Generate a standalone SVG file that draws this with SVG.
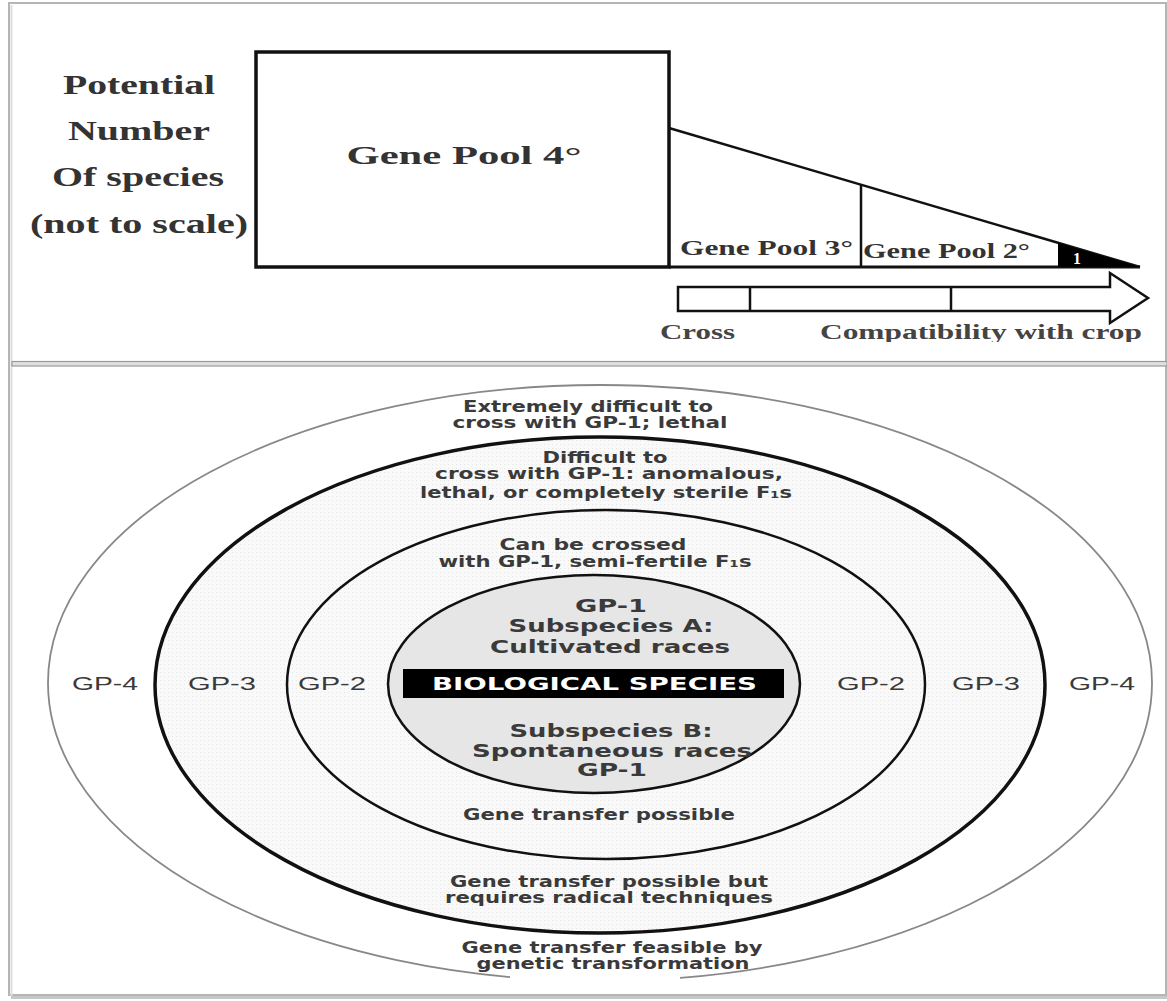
<svg xmlns="http://www.w3.org/2000/svg" width="1167" height="1001" viewBox="0 0 1167 1001">
<defs>
<style>
.serif{font-family:"Liberation Serif","Times New Roman",serif;font-weight:bold;fill:#333;text-anchor:middle}
.sans{font-family:"DejaVu Sans",Verdana,sans-serif;font-weight:bold;fill:#3a3a3a;text-anchor:middle;font-size:15px}
.big{font-size:17px}
.gp{font-family:"Liberation Sans",Arial,sans-serif;fill:#3a3a3a;text-anchor:middle;font-size:18px}
.ln{stroke:#111;fill:none}
</style>
<pattern id="dots" width="4" height="4" patternUnits="userSpaceOnUse"><rect width="4" height="4" fill="#f9f9f9"/><rect width="1" height="1" fill="#e6e6e6"/></pattern>
<clipPath id="cut"><rect x="0" y="0" width="1167" height="342"/></clipPath>
</defs>
<rect width="1167" height="1001" fill="#fff"/>
<g id="frame">
<rect x="9" y="3" width="1157" height="992" fill="none" stroke="#b5b5b5" stroke-width="2"/>
<line x1="11" y1="997.5" x2="1167" y2="997.5" stroke="#c8c8c8" stroke-width="3"/>
<line x1="11.5" y1="5" x2="11.5" y2="996" stroke="#dedede" stroke-width="2"/>
</g>
<g id="axis-label">
<text class="serif" font-size="28" x="139" y="94" textLength="152" lengthAdjust="spacingAndGlyphs">Potential</text>
<text class="serif" font-size="28" x="139" y="140" textLength="142" lengthAdjust="spacingAndGlyphs">Number</text>
<text class="serif" font-size="28" x="138" y="186" textLength="172" lengthAdjust="spacingAndGlyphs">Of species</text>
<text class="serif" font-size="28" x="139" y="233" textLength="218" lengthAdjust="spacingAndGlyphs">(not to scale)</text>
</g>
<g id="gene-pool-4">
<rect x="256" y="52" width="413" height="215" fill="#fff" stroke="#111" stroke-width="3.5"/>
<text class="serif" font-size="26" x="464" y="164" textLength="235" lengthAdjust="spacingAndGlyphs">Gene Pool 4°</text>
</g>
<g id="wedge">
<line class="ln" x1="669" y1="267" x2="1140" y2="267" stroke-width="3"/>
<line class="ln" x1="669" y1="128" x2="1140" y2="267" stroke-width="2.5"/>
<line class="ln" x1="861" y1="185" x2="861" y2="267" stroke-width="2.5"/>
</g>
<g id="gene-pool-3">
<text class="serif" font-size="22" x="766.5" y="255" textLength="173" lengthAdjust="spacingAndGlyphs">Gene Pool 3°</text>
</g>
<g id="gene-pool-2">
<text class="serif" font-size="22" x="946.5" y="258" textLength="167" lengthAdjust="spacingAndGlyphs">Gene Pool 2°</text>
</g>
<g id="gene-pool-1">
<polygon points="1058,242.8 1058,267 1140,267" fill="#000"/>
<text class="serif" font-size="16" x="1077" y="264" style="fill:#fff">1</text>
</g>
<g id="connectors">
<polygon points="678,287 1110,287 1110,273 1148,298 1110,323 1110,311 678,311" fill="#fff" stroke="#111" stroke-width="2.5" stroke-linejoin="miter"/>
<line class="ln" x1="750" y1="287" x2="750" y2="311" stroke-width="2.5"/>
<line class="ln" x1="951" y1="287" x2="951" y2="311" stroke-width="2.5"/>
</g>
<g id="arrow-labels" clip-path="url(#cut)">
<text class="serif" font-size="20" x="697.5" y="339" textLength="75" lengthAdjust="spacingAndGlyphs" style="fill:#444">Cross</text>
<text class="serif" font-size="20" x="981" y="339" textLength="322" lengthAdjust="spacingAndGlyphs" style="fill:#444">Compatibility with crop</text>
</g>
<g id="separator">
<rect x="12" y="361.5" width="1155" height="4.5" fill="#e0e0e0" stroke="#999" stroke-width="1.2"/>
</g>
<g id="gp4-ring">
<ellipse cx="600" cy="683" rx="552" ry="298" fill="#fff" stroke="#888" stroke-width="1.8"/>
<rect x="510" y="973" width="170" height="12" fill="#fff"/>
<text class="sans" x="588" y="412" textLength="250" lengthAdjust="spacingAndGlyphs">Extremely difficult to</text>
<text class="sans" x="590" y="428" textLength="275" lengthAdjust="spacingAndGlyphs">cross with GP-1; lethal</text>
<text class="sans" x="612" y="953" textLength="301" lengthAdjust="spacingAndGlyphs">Gene transfer feasible by</text>
<text class="sans" x="613" y="969" textLength="273" lengthAdjust="spacingAndGlyphs">genetic transformation</text>
<text class="gp" x="105" y="690" textLength="66" lengthAdjust="spacingAndGlyphs">GP-4</text>
<text class="gp" x="1102" y="690" textLength="66" lengthAdjust="spacingAndGlyphs">GP-4</text>
</g>
<g id="gp3-ring">
<ellipse cx="600" cy="685" rx="445" ry="248" fill="url(#dots)" stroke="#111" stroke-width="3.5"/>
<text class="sans" x="605" y="463" textLength="125" lengthAdjust="spacingAndGlyphs">Difficult to</text>
<text class="sans" x="609" y="479" textLength="348" lengthAdjust="spacingAndGlyphs">cross with GP-1: anomalous,</text>
<text class="sans" x="606" y="498" textLength="372" lengthAdjust="spacingAndGlyphs">lethal, or completely sterile F₁s</text>
<text class="sans" x="609" y="887" textLength="318" lengthAdjust="spacingAndGlyphs">Gene transfer possible but</text>
<text class="sans" x="609" y="903" textLength="328" lengthAdjust="spacingAndGlyphs">requires radical techniques</text>
<text class="gp" x="222" y="690" textLength="68" lengthAdjust="spacingAndGlyphs">GP-3</text>
<text class="gp" x="986" y="690" textLength="68" lengthAdjust="spacingAndGlyphs">GP-3</text>
</g>
<g id="gp2-ring">
<ellipse cx="606" cy="684.5" rx="319" ry="174.5" fill="url(#dots)" stroke="#111" stroke-width="2.5"/>
<text class="sans" x="593" y="550" textLength="187" lengthAdjust="spacingAndGlyphs">Can be crossed</text>
<text class="sans" x="595" y="567" textLength="313" lengthAdjust="spacingAndGlyphs">with GP-1, semi-fertile F₁s</text>
<text class="sans" x="599" y="820" textLength="272" lengthAdjust="spacingAndGlyphs">Gene transfer possible</text>
<text class="gp" x="332" y="690" textLength="68" lengthAdjust="spacingAndGlyphs">GP-2</text>
<text class="gp" x="871" y="690" textLength="68" lengthAdjust="spacingAndGlyphs">GP-2</text>
</g>
<g id="gp1-core">
<ellipse cx="594" cy="684" rx="206" ry="109" fill="#e6e6e6" stroke="#111" stroke-width="2.5"/>
<text class="sans big" x="611" y="612" textLength="72" lengthAdjust="spacingAndGlyphs">GP-1</text>
<text class="sans big" x="611" y="632" textLength="205" lengthAdjust="spacingAndGlyphs">Subspecies A:</text>
<text class="sans big" x="610" y="653" textLength="240" lengthAdjust="spacingAndGlyphs">Cultivated races</text>
<rect x="403" y="669" width="381" height="29" fill="#000"/>
<text class="sans big" x="594.5" y="690" textLength="325" lengthAdjust="spacingAndGlyphs" style="fill:#fff">BIOLOGICAL SPECIES</text>
<text class="sans big" x="611" y="737" textLength="203" lengthAdjust="spacingAndGlyphs">Subspecies B:</text>
<text class="sans big" x="612" y="757" textLength="280" lengthAdjust="spacingAndGlyphs">Spontaneous races</text>
<text class="sans big" x="612" y="776" textLength="70" lengthAdjust="spacingAndGlyphs">GP-1</text>
</g>
</svg>
